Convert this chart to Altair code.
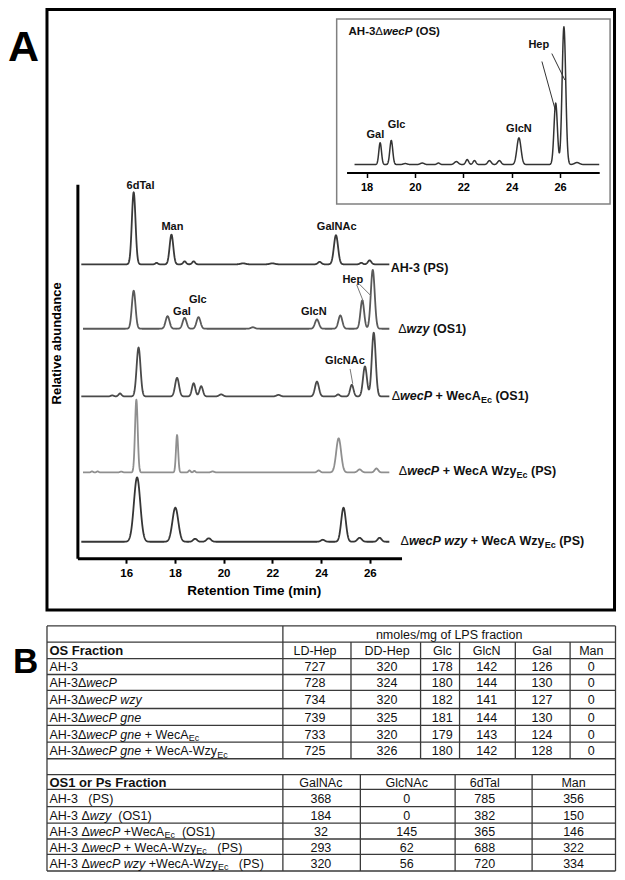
import numpy as np
import pandas as pd
import altair as alt

# ---------------- canvas mapping (reference pixels -> chart pixels) ----------------
W, H = 609, 864
SX = 608 / 616
SY = 863 / 871


def px(X):
    return (X - 4) * SX


def py(Y):
    return (Y - 4) * SY


FONT = "Liberation Sans"

# ---------------- chromatogram data (peaks) ----------------
# each peak: (retention time [min], height [relative units], width sigma [min])
trace_names = ["AH-3 (PS)", "dwzy (OS1)", "dwecP + WecA (OS1)",
               "dwecP + WecA Wzy (PS)", "dwecP wzy + WecA Wzy (PS)"]
trace_offsets = [296.6, 231.6, 163.3, 86.6, 16.6]
trace_start = [14.16, 14.23, 14.16, 14.23, 14.16]
trace_end = [26.8, 26.8, 26.8, 26.8, 26.8]
trace_colors = ["#3a3a3a", "#5a5a5a", "#4a4a4a", "#8f8f8f", "#363636"]

peaks_ah3_ps = [(16.31, 72.7, 0.075), (17.25, 1.5, 0.05), (17.86, 30.0, 0.075),
                (18.40, 3.0, 0.06), (18.77, 3.0, 0.06), (20.8, 1.0, 0.1),
                (22.0, 1.0, 0.1), (23.94, 2.5, 0.07), (24.61, 29.4, 0.085),
                (25.65, 1.5, 0.06), (25.99, 4.0, 0.07)]
peaks_wzy_os1 = [(16.31, 38.4, 0.075), (17.70, 12.7, 0.08), (18.40, 11.0, 0.08),
                 (18.97, 11.7, 0.08), (21.2, 1.5, 0.08), (23.83, 9.4, 0.08),
                 (24.79, 13.4, 0.08), (25.69, 28.7, 0.075), (26.12, 59.4, 0.08)]
peaks_weca_os1 = [(15.43, 1.0, 0.06), (15.75, 3.0, 0.06), (16.51, 49.3, 0.08),
                  (18.09, 18.7, 0.08), (18.77, 13.3, 0.07), (19.08, 10.3, 0.07),
                  (19.9, 2.0, 0.08), (22.25, 1.5, 0.08), (23.83, 15.0, 0.08),
                  (24.7, 2.0, 0.06), (25.26, 11.7, 0.07), (25.80, 30.3, 0.08),
                  (26.16, 64.3, 0.08)]
peaks_weca_wzy_ps = [(14.6, 1.0, 0.04), (14.83, 1.0, 0.04), (15.8, 0.8, 0.05),
                     (16.42, 73.4, 0.055), (18.09, 37.7, 0.045), (18.6, 2.0, 0.04),
                     (18.8, 1.5, 0.04), (19.55, 1.0, 0.06), (23.9, 2.0, 0.06),
                     (24.72, 34.4, 0.1), (25.58, 3.0, 0.08), (26.27, 4.0, 0.07)]
peaks_wzy_weca_wzy_ps = [(16.45, 65.0, 0.13), (18.02, 34.4, 0.12), (18.83, 3.0, 0.08),
                         (19.39, 3.5, 0.09), (24.07, 2.0, 0.08), (24.92, 34.4, 0.095),
                         (25.58, 4.0, 0.09), (26.4, 4.0, 0.08)]
trace_peaks = [peaks_ah3_ps, peaks_wzy_os1, peaks_weca_os1,
               peaks_weca_wzy_ps, peaks_wzy_weca_wzy_ps]

# inset: AH-3 dwecP (OS)
inset_offset = 8.0
inset_start, inset_end = 17.5, 27.62
inset_peaks = [(18.56, 22.0, 0.055), (19.02, 24.3, 0.06), (19.6, 1.0, 0.08),
               (20.3, 1.5, 0.08), (20.97, 1.5, 0.06), (21.71, 3.0, 0.08),
               (22.16, 5.0, 0.06), (22.46, 4.0, 0.06), (23.08, 4.0, 0.07),
               (23.49, 4.0, 0.07), (24.30, 27.0, 0.085), (25.82, 62.0, 0.07),
               (26.16, 139.0, 0.075), (26.7, 2.0, 0.1)]

# peak annotations: (text, time, height position)
main_peak_labels = [("6dTal", 16.59, 376.0), ("Man", 17.90, 334.3), ("GalNAc", 24.64, 334.3),
                    ("Gal", 18.29, 248.3), ("Glc", 18.94, 260.3), ("GlcN", 23.70, 248.3),
                    ("Hep", 25.30, 280.6), ("GlcNAc", 24.98, 198.6)]
main_pointer_lines = [("hep1", 25.46, 276.0, 25.73, 259.3),
                      ("hep2", 25.57, 276.6, 26.04, 265.0),
                      ("glcnac", 25.19, 191.0, 25.30, 176.0)]
inset_peak_labels = [("Gal", 18.36, 37.7), ("Glc", 19.24, 48.3),
                     ("GlcN", 24.30, 44.0), ("Hep", 25.12, 128.3)]
inset_pointer_lines = [("hep1", 25.25, 112.0, 25.80, 63.3),
                       ("hep2", 25.66, 120.0, 26.20, 93.3)]

main_ticks = [16, 18, 20, 22, 24, 26]
inset_ticks = [18, 20, 22, 24, 26]

# trace labels (rich text parts)
trace_label_parts = [
    [("AH-3 (PS)", "b")],
    [("\u0394", "n"), ("wzy", "bi"), (" (OS1)", "b")],
    [("\u0394", "n"), ("wecP", "bi"), (" + WecA", "b"), ("Ec", "bsub"), (" (OS1)", "b")],
    [("\u0394", "n"), ("wecP", "bi"), (" + WecA Wzy", "b"), ("Ec", "bsub"), (" (PS)", "b")],
    [("\u0394", "n"), ("wecP wzy", "bi"), (" + WecA Wzy", "b"), ("Ec", "bsub"), (" (PS)", "b")],
]
inset_title_parts = [("AH-3", "b"), ("\u0394", "n"), ("wecP", "bi"), (" (OS)", "b")]

# ---------------- table data ----------------
os_cols = ["LD-Hep", "DD-Hep", "Glc", "GlcN", "Gal", "Man"]
os_label_parts = [
    [("AH-3", "n")],
    [("AH-3\u0394", "n"), ("wecP", "i")],
    [("AH-3\u0394", "n"), ("wecP wzy", "i")],
    [("AH-3\u0394", "n"), ("wecP gne", "i")],
    [("AH-3\u0394", "n"), ("wecP gne", "i"), (" + WecA", "n"), ("Ec", "sub")],
    [("AH-3\u0394", "n"), ("wecP gne", "i"), (" + WecA-Wzy", "n"), ("Ec", "sub")],
]
os_values = [
    [727, 320, 178, 142, 126, 0],
    [728, 324, 180, 144, 130, 0],
    [734, 320, 182, 141, 127, 0],
    [739, 325, 181, 144, 130, 0],
    [733, 320, 179, 143, 124, 0],
    [725, 326, 180, 142, 128, 0],
]
ps_cols = ["GalNAc", "GlcNAc", "6dTal", "Man"]
ps_label_parts = [
    [("AH-3   (PS)", "n")],
    [("AH-3 \u0394", "n"), ("wzy", "i"), ("  (OS1)", "n")],
    [("AH-3 \u0394", "n"), ("wecP", "i"), (" +WecA", "n"), ("Ec", "sub"), ("  (OS1)", "n")],
    [("AH-3 \u0394", "n"), ("wecP", "i"), (" + WecA-Wzy", "n"), ("Ec", "sub"), ("   (PS)", "n")],
    [("AH-3 \u0394", "n"), ("wecP wzy", "i"), (" +WecA-Wzy", "n"), ("Ec", "sub"), ("   (PS)", "n")],
]
ps_values = [
    [368, 0, 785, 356],
    [184, 0, 382, 150],
    [32, 145, 365, 146],
    [293, 62, 688, 322],
    [320, 56, 720, 334],
]

# ---------------- layout (reference pixel positions) ----------------
TBL_L, TBL_R, TBL_SPLIT = 43.5, 619.5, 282.5
row_lines = [627.7, 644.0, 660.7, 676.7, 692.7, 711.0, 728.0, 745.0, 761.7,
             777.7, 792.7, 810.0, 826.7, 842.7, 858.3, 875.0]
os_inner_cols = [351.5, 422.0, 461.5, 518.0, 573.5]
ps_inner_cols = [361.0, 457.0, 535.0]
os_centers = [315, 388, 444, 489, 545, 595]
ps_centers = [321, 408, 487, 577]

# ---------------- text width estimate (Arial / Liberation Sans metrics) ----------------
REG_W = {' ': 278, '\u00a0': 278, '(': 333, ')': 333, '+': 584, '-': 333, '/': 278,
         'A': 667, 'C': 722, 'E': 667, 'F': 611, 'G': 778, 'H': 722, 'L': 556, 'M': 833,
         'N': 722, 'O': 778, 'P': 667, 'S': 667, 'T': 611, 'W': 944, 'a': 556, 'c': 500,
         'd': 556, 'e': 556, 'f': 278, 'g': 556, 'i': 222, 'l': 222, 'm': 833, 'n': 556,
         'o': 556, 'p': 556, 'r': 333, 's': 500, 't': 278, 'w': 722, 'y': 500, 'z': 500,
         '\u0394': 668}
BOLD_W = {' ': 278, '\u00a0': 278, '(': 333, ')': 333, '+': 584, '-': 333,
          'A': 722, 'C': 722, 'E': 667, 'F': 611, 'G': 778, 'H': 722, 'L': 611, 'M': 833,
          'N': 722, 'O': 778, 'P': 667, 'S': 667, 'T': 611, 'W': 944, 'a': 556, 'c': 556,
          'd': 611, 'e': 556, 'i': 278, 'l': 278, 'm': 889, 'n': 611, 'o': 611, 'p': 611,
          'r': 389, 's': 556, 't': 333, 'w': 778, 'y': 556, 'z': 500, '\u0394': 668}
STYLES = {
    "n": ("normal", "normal", 1.0, 0.0),
    "i": ("normal", "italic", 1.0, 0.0),
    "b": ("bold", "normal", 1.0, 0.0),
    "bi": ("bold", "italic", 1.0, 0.0),
    "sub": ("normal", "normal", 0.72, 0.28),
    "bsub": ("bold", "normal", 0.72, 0.28),
}


def text_width(text, size, bold):
    table = BOLD_W if bold else REG_W
    return sum(table.get(ch, 556) for ch in text) * size / 1000.0


def rich_rows(X0, Y, parts, size):
    rows, X = [], X0
    for text, st in parts:
        weight, fstyle, scale, dy = STYLES[st]
        fs = size * scale
        bold = weight == "bold"
        core = text.lstrip(" ")
        lead = text[: len(text) - len(core)]
        X += text_width(lead, fs, bold) / SX
        rows.append(dict(X=X, Y=Y + dy * size / SY, text=core.replace(" ", "\u00a0"),
                         style=st, size=fs))
        X += text_width(core, fs, bold) / SX
    return rows


# ---------------- build data frames ----------------
rows = []
for name, off, t0, t1, pk in zip(trace_names, trace_offsets, trace_start, trace_end, trace_peaks):
    t = np.round(np.arange(t0, t1 + 1e-9, 0.01), 3)
    v = np.full_like(t, off)
    for c, h, s in pk:
        v = v + h * np.exp(-0.5 * ((t - c) / s) ** 2)
    rows.append(pd.DataFrame({"trace": name, "t": t, "v": v}))
main_df = pd.concat(rows, ignore_index=True)

t = np.round(np.arange(inset_start, inset_end + 1e-9, 0.01), 3)
v = np.full_like(t, inset_offset)
for c, h, s in inset_peaks:
    v = v + h * np.exp(-0.5 * ((t - c) / s) ** 2)
inset_df = pd.DataFrame({"t": t, "v": v})


def pointer_df(lines):
    r = []
    for pid, ta, va, tb, vb in lines:
        r.append(dict(id=pid, t=ta, v=va))
        r.append(dict(id=pid, t=tb, v=vb))
    return pd.DataFrame(r)


main_ptr_df = pointer_df(main_pointer_lines)
inset_ptr_df = pointer_df(inset_pointer_lines)
main_lbl_df = pd.DataFrame(main_peak_labels, columns=["label", "t", "v"])
inset_lbl_df = pd.DataFrame(inset_peak_labels, columns=["label", "t", "v"])

# rich text segments (trace labels, inset title, table row labels)
seg = []
trace_label_X = [391.7, 399.3, 392.7, 400.0, 401.7]
trace_label_Y = [266.0, 328.0, 396.0, 471.5, 542.0]
for X0, Y0, parts in zip(trace_label_X, trace_label_Y, trace_label_parts):
    seg += rich_rows(X0, Y0, parts, 12.5)
seg += rich_rows(349.0, 28.5, inset_title_parts, 11.5)
os_row_centers = [(row_lines[i] + row_lines[i + 1]) / 2 + 0.8 for i in range(2, 8)]
ps_row_centers = [(row_lines[i] + row_lines[i + 1]) / 2 + 0.8 for i in range(10, 15)]
for Yc, parts in zip(os_row_centers, os_label_parts):
    seg += rich_rows(46.0, Yc, parts, 12.5)
for Yc, parts in zip(ps_row_centers, ps_label_parts):
    seg += rich_rows(46.0, Yc, parts, 12.5)
seg_df = pd.DataFrame(seg)

# table cell text (centered)
cells = []
hdr_y = (row_lines[0] + row_lines[1]) / 2 + 0.8
cells.append(dict(X=(TBL_SPLIT + TBL_R) / 2, Y=hdr_y, text="nmoles/mg of LPS fraction"))
osh_y = (row_lines[1] + row_lines[2]) / 2 + 0.8
for Xc, name in zip(os_centers, os_cols):
    cells.append(dict(X=Xc, Y=osh_y, text=name))
for Yc, vals in zip(os_row_centers, os_values):
    for Xc, val in zip(os_centers, vals):
        cells.append(dict(X=Xc, Y=Yc, text=str(val)))
psh_y = (row_lines[9] + row_lines[10]) / 2 + 0.8
for Xc, name in zip(ps_centers, ps_cols):
    cells.append(dict(X=Xc, Y=psh_y, text=name))
for Yc, vals in zip(ps_row_centers, ps_values):
    for Xc, val in zip(ps_centers, vals):
        cells.append(dict(X=Xc, Y=Yc, text=str(val)))
cell_df = pd.DataFrame(cells)
bold_df = pd.DataFrame([dict(X=46.0, Y=osh_y, text="OS Fraction"),
                        dict(X=46.0, Y=psh_y, text="OS1 or Ps Fraction")])

# table grid lines
gl = []
for Y in row_lines:
    gl.append(dict(X=TBL_L, X2=TBL_R, Y=Y, Y2=Y))
gl.append(dict(X=TBL_L, X2=TBL_L, Y=row_lines[0], Y2=row_lines[-1]))
gl.append(dict(X=TBL_R, X2=TBL_R, Y=row_lines[0], Y2=row_lines[-1]))
gl.append(dict(X=TBL_SPLIT, X2=TBL_SPLIT, Y=row_lines[0], Y2=row_lines[8]))
gl.append(dict(X=TBL_SPLIT, X2=TBL_SPLIT, Y=row_lines[9], Y2=row_lines[-1]))
for Xc in os_inner_cols:
    gl.append(dict(X=Xc, X2=Xc, Y=row_lines[1], Y2=row_lines[8]))
for Xc in ps_inner_cols:
    gl.append(dict(X=Xc, X2=Xc, Y=row_lines[9], Y2=row_lines[-1]))
grid_df = pd.DataFrame(gl)

frameA_df = pd.DataFrame([dict(X=43.5, X2=618.5, Y=5.5, Y2=611.5)])
frameI_df = pd.DataFrame([dict(X=337.0, X2=614.0, Y=15.0, Y2=201.7)])
letters_df = pd.DataFrame([dict(X=4.0, Y=57.0, text="A", size=43),
                           dict(X=9.0, Y=675.0, text="B", size=35)])

# ---------------- pixel-layout group ----------------
xp = alt.X("X:Q", scale=alt.Scale(domain=[4, 620], range=[0, px(620)], nice=False, zero=False), axis=None)
yp = alt.Y("Y:Q", scale=alt.Scale(domain=[4, 875], range=[0, py(875)], nice=False, zero=False), axis=None)

frameA = alt.Chart(frameA_df).mark_rect(filled=False, stroke="black", strokeWidth=3).encode(
    x=xp, x2="X2:Q", y=yp, y2="Y2:Q")
frameI = alt.Chart(frameI_df).mark_rect(filled=False, stroke="#808080", strokeWidth=1.5).encode(
    x=xp, x2="X2:Q", y=yp, y2="Y2:Q")
grid = alt.Chart(grid_df).mark_rule(color="#3a3a3a", strokeWidth=1.3).encode(
    x=xp, x2="X2:Q", y=yp, y2="Y2:Q")
letters = alt.Chart(letters_df).mark_text(align="left", baseline="alphabetic", font=FONT,
                                          fontWeight="bold", color="black").encode(
    x=xp, y=yp, text="text:N", size=alt.Size("size:Q", scale=None))
cell_text = alt.Chart(cell_df).mark_text(align="center", baseline="middle", font=FONT,
                                         fontSize=12.5, color="#111111").encode(
    x=xp, y=yp, text="text:N")
bold_text = alt.Chart(bold_df).mark_text(align="left", baseline="middle", font=FONT,
                                         fontSize=13, fontWeight="bold", color="#111111").encode(
    x=xp, y=yp, text="text:N")

seg_layers = []
for st, (weight, fstyle, scale, dy) in STYLES.items():
    seg_layers.append(
        alt.Chart(seg_df).transform_filter(alt.datum.style == st).mark_text(
            align="left", baseline="middle", font=FONT, fontWeight=weight,
            fontStyle=fstyle, color="#111111").encode(
            x=xp, y=yp, text="text:N", size=alt.Size("size:Q", scale=None)))

pixel_group = alt.layer(frameA, frameI, grid, letters, cell_text, bold_text, *seg_layers)

# ---------------- main chromatogram group ----------------
xm = alt.X("t:Q",
           scale=alt.Scale(domain=[14, 27.3], range=[px(74.3), px(402.7)], nice=False, zero=False),
           axis=alt.Axis(orient="bottom", offset=-(H - py(559.3)), values=main_ticks,
                         domainColor="black", domainWidth=3, tickColor="black", tickWidth=2,
                         tickSize=5, labelFont=FONT, labelFontWeight="bold", labelFontSize=11.5,
                         labelColor="black", labelPadding=4, labelFlush=False, grid=False,
                         title="Retention Time (min)", titleFont=FONT, titleFontSize=13.5,
                         titleFontWeight="bold", titleColor="black", titleX=px(253),
                         titleY=py(592) - py(559.3), titleBaseline="middle"))
ym = alt.Y("v:Q",
           scale=alt.Scale(domain=[0, 377.3], range=[py(559.3), py(182)], nice=False, zero=False),
           axis=alt.Axis(orient="left", offset=-px(74.3), ticks=False, labels=False,
                         domainColor="black", domainWidth=3, grid=False,
                         title="Relative abundance", titleFont=FONT, titleFontSize=13,
                         titleFontWeight="bold", titleColor="black", titleAngle=270,
                         titleX=px(52.7) - px(74.3), titleY=py(342), titleBaseline="middle",
                         titleAlign="center"))

traces = alt.Chart(main_df).mark_line(strokeWidth=1.8, strokeJoin="round").encode(
    x=xm, y=ym,
    color=alt.Color("trace:N", scale=alt.Scale(domain=trace_names, range=trace_colors), legend=None),
    detail="trace:N")
main_ptr = alt.Chart(main_ptr_df).mark_line(color="#777777", strokeWidth=1).encode(
    x=xm, y=ym, detail="id:N")
main_lbl = alt.Chart(main_lbl_df).mark_text(align="center", baseline="middle", font=FONT,
                                            fontWeight="bold", fontSize=11, color="#111111").encode(
    x=xm, y=ym, text="label:N")
main_group = alt.layer(traces, main_ptr, main_lbl)

# ---------------- inset group ----------------
xi = alt.X("t:Q",
           scale=alt.Scale(domain=[17.17, 27.62], range=[px(347), px(603)], nice=False, zero=False),
           axis=alt.Axis(orient="bottom", offset=-(H - py(170)), values=inset_ticks,
                         domainColor="black", domainWidth=2, tickColor="black", tickWidth=1.5,
                         tickSize=5, labelFont=FONT, labelFontWeight="bold", labelFontSize=11,
                         labelColor="black", labelPadding=4, labelFlush=False, grid=False,
                         title=None))
yi = alt.Y("v:Q",
           scale=alt.Scale(domain=[0, 160], range=[py(170), py(10)], nice=False, zero=False),
           axis=None)
inset_line = alt.Chart(inset_df).mark_line(color="#333333", strokeWidth=1.5,
                                           strokeJoin="round").encode(x=xi, y=yi)
inset_ptr = alt.Chart(inset_ptr_df).mark_line(color="#333333", strokeWidth=1).encode(
    x=xi, y=yi, detail="id:N")
inset_lbl = alt.Chart(inset_lbl_df).mark_text(align="center", baseline="middle", font=FONT,
                                              fontWeight="bold", fontSize=11, color="#111111").encode(
    x=xi, y=yi, text="label:N")
inset_group = alt.layer(inset_line, inset_ptr, inset_lbl)

chart = alt.layer(pixel_group, main_group, inset_group).resolve_scale(
    x="independent", y="independent", color="independent"
).properties(
    width=W, height=H, padding=0, background="white",
    autosize=alt.AutoSizeParams(type="none")
).configure_view(strokeWidth=0)

chart.save("out.html", embed_options={"renderer": "svg", "actions": False})
